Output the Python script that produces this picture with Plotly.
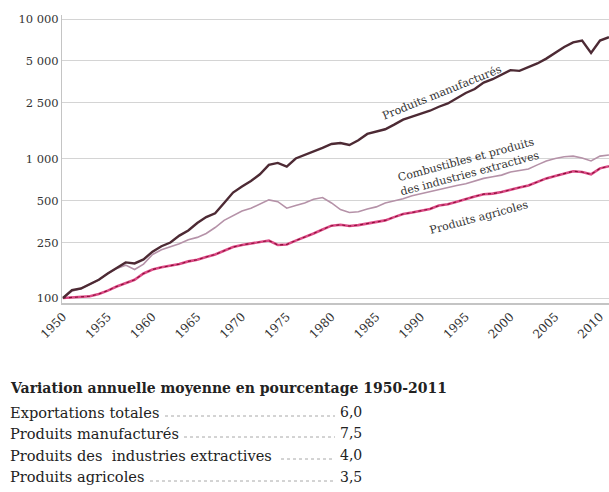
import plotly.graph_objects as go

years = list(range(1950, 2012))

manufactures = [100, 114, 117, 125, 135, 150, 165, 180, 177, 189,
                215, 235, 250, 280, 305, 345, 380, 405, 480, 570,
                630, 690, 770, 900, 930, 875, 1000, 1060, 1110, 1190,
                1270, 1290, 1250, 1350, 1500, 1560, 1620, 1750, 1900, 2000,
                2090, 2200, 2350, 2480, 2700, 2950, 3150, 3500, 3700, 4000,
                4300, 4250, 4500, 4800, 5200, 5700, 6300, 6800, 7000, 5700,
                7000, 7400]

extractives = [100, 112, 117, 125, 135, 150, 163, 172, 160, 175,
               205, 222, 232, 245, 262, 272, 290, 320, 360, 390,
               420, 440, 470, 505, 490, 440, 460, 480, 510, 525,
               480, 430, 410, 415, 435, 450, 480, 495, 515, 540,
               560, 580, 600, 620, 640, 660, 690, 720, 740, 760,
               800, 820, 840, 900, 960, 1000, 1030, 1040, 1010, 960,
               1040, 1060]

agricoles = [100, 101, 102, 103, 107, 113, 121, 128, 135, 150,
             160, 166, 170, 175, 183, 188, 197, 205, 218, 232,
             240, 245, 250, 258, 240, 242, 258, 272, 290, 310,
             330, 335, 328, 333, 343, 350, 360, 380, 400, 410,
             420, 435, 460, 470, 490, 515, 535, 555, 560, 575,
             600, 620, 640, 680, 720, 750, 780, 810, 800, 770,
             850, 880]

y_ticks = [100, 250, 500, 1000, 2500, 5000, 10000]
y_ticktext = ["100", "250", "500", "1 000", "2 500", "5 000", "10 000"]
x_ticks = list(range(1950, 2011, 5))

table_title = "Variation annuelle moyenne en pourcentage 1950-2011"
table_labels = ["Exportations totales", "Produits manufacturés",
                "Produits des  industries extractives", "Produits agricoles"]
table_values = ["6,0", "7,5", "4,0", "3,5"]

W, H = 609, 492
L, R, T, B = 62, 0, 15, 189
PW, PH = W - L - R, H - T - B


def px(x):
    return (x - L) / PW


def py(y):
    return (H - B - y) / PH


SERIF = "DejaVu Serif"

fig = go.Figure()
fig.add_trace(go.Scatter(x=years, y=extractives, mode="lines",
                         line=dict(color="#b592a8", width=1.6), hoverinfo="skip"))
fig.add_trace(go.Scatter(x=years, y=agricoles, mode="lines",
                         line=dict(color="#dc4a86", width=2.6), hoverinfo="skip"))
fig.add_trace(go.Scatter(x=years, y=agricoles, mode="lines",
                         line=dict(color="#8a1038", width=1.1, dash="dot"), hoverinfo="skip"))
fig.add_trace(go.Scatter(x=years, y=manufactures, mode="lines",
                         line=dict(color="#4d2a34", width=2.4), hoverinfo="skip"))

annotations = [
    dict(text="Produits manufacturés", x=px(442), y=py(92), textangle=-22),
    dict(text="Combustibles et produits<br>des industries extractives",
         x=px(468), y=py(166), textangle=-15),
    dict(text="Produits agricoles", x=px(479), y=py(217), textangle=-15),
]
for a in annotations:
    a.update(xref="paper", yref="paper", showarrow=False,
             xanchor="center", yanchor="middle",
             font=dict(family=SERIF, size=11, color="#333333"))

annotations.append(dict(text="<b>" + table_title + "</b>", xref="paper", yref="paper",
                        x=px(8), y=py(388), xanchor="left", yanchor="middle",
                        showarrow=False,
                        font=dict(family=SERIF, size=14, color="#222222")))
row_y = [412, 433, 455, 477]
leader_start = [165, 184, 281, 150]
shapes = []
for lab, val, yy, ls in zip(table_labels, table_values, row_y, leader_start):
    annotations.append(dict(text=lab, xref="paper", yref="paper", x=px(8), y=py(yy),
                            xanchor="left", yanchor="middle", showarrow=False,
                            font=dict(family=SERIF, size=14.6, color="#222222")))
    annotations.append(dict(text=val, xref="paper", yref="paper", x=px(338), y=py(yy),
                            xanchor="left", yanchor="middle", showarrow=False,
                            font=dict(family=SERIF, size=14, color="#222222")))
    shapes.append(dict(type="line", xref="paper", yref="paper",
                       x0=px(ls), x1=px(335), y0=py(yy + 4), y1=py(yy + 4),
                       line=dict(color="#a8a8a8", width=1, dash="dot")))

fig.update_layout(
    width=W, height=H,
    margin=dict(l=L, r=R, t=T, b=B),
    paper_bgcolor="white", plot_bgcolor="white",
    showlegend=False,
    annotations=annotations,
    shapes=shapes,
    xaxis=dict(range=[1950 - 1 / 8.95, 1950 + (609 - 63) / 8.95],
               tickvals=x_ticks, tickangle=-45, showgrid=False,
               zeroline=False, showline=True, linecolor="#c4c4c4", linewidth=2,
               ticks="", tickfont=dict(family=SERIF, size=12, color="#333333")),
    yaxis=dict(type="log", range=[2 - 5 / 139.5, 2 + (298 - 15) / 139.5],
               tickvals=y_ticks, ticktext=y_ticktext,
               showgrid=True, gridcolor="#d4d4d4", gridwidth=1,
               zeroline=False, showline=True, linecolor="#c4c4c4", linewidth=1,
               ticks="", tickfont=dict(family=SERIF, size=11.5, color="#333333")),
)

fig.write_html("out.html")
